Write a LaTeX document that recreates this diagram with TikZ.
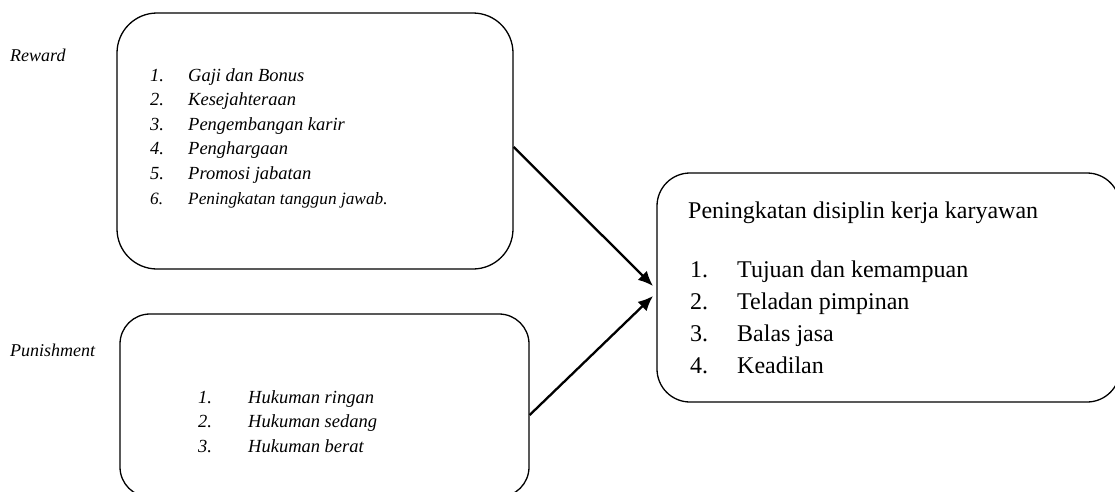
\documentclass[tikz,border=0pt]{standalone}
\usepackage{fontspec}
\setmainfont{Liberation Serif}
\usetikzlibrary{arrows.meta}
\begin{document}
\begin{tikzpicture}[x=1pt,y=-1pt,
  box/.style={draw, line width=1.3pt, inner sep=0pt, rounded corners=#1},
  lbl/.style={anchor=base west, inner sep=0pt, font=\fontsize{18}{22}\selectfont\itshape},
  smalllist/.style={anchor=base west, inner sep=0pt, font=\fontsize{18.5}{24.6}\selectfont\itshape},
  biglist/.style={anchor=base west, inner sep=0pt, font=\fontsize{24}{32}\selectfont},
  arr/.style={line width=2.3pt, -{Latex[length=15pt,width=13pt]}}]
\useasboundingbox (0,0) rectangle (1115,491);
% boxes
\node[box=40pt, minimum width=396pt, minimum height=256pt] (reward) at (315,141) {};
\node[box=30pt, minimum width=409pt, minimum height=183pt] (punish) at (324.5,405.5) {};
\node[box=33pt, minimum width=463pt, minimum height=229pt] (result) at (888.5,287.5) {};
% labels
\node[lbl] (rewardlabel) at (10,61) {Reward};
\node[lbl] (punishlabel) at (10,356) {Punishment};
% lists
\node[smalllist] (rewardlist) at (150,81) {\begin{tabular}[t]{@{}p{38pt}@{}l@{}}
1. & Gaji dan Bonus\\
2. & Kesejahteraan\\
3. & Pengembangan karir\\
4. & Penghargaan\\
5. & Promosi jabatan\\
\fontsize{17.3}{20}\selectfont 6. & \fontsize{17.3}{20}\selectfont Peningkatan tanggun jawab.
\end{tabular}};
\node[smalllist] (punishlist) at (198,403) {\begin{tabular}[t]{@{}p{50pt}@{}l@{}}
1. & Hukuman ringan\\
2. & Hukuman sedang\\
3. & Hukuman berat
\end{tabular}};
\node[biglist] (resulttitle) at (688,218) {Peningkatan disiplin kerja karyawan};
\node[biglist] (resultlist) at (690,277) {\begin{tabular}[t]{@{}p{47pt}@{}l@{}}
1. & Tujuan dan kemampuan\\
2. & Teladan pimpinan\\
3. & Balas jasa\\
4. & Keadilan
\end{tabular}};
% arrows
\coordinate (tip1) at (653,286);
\coordinate (tip2) at (653,296);
\draw[arr] ([yshift=-6pt]reward.east) -- (tip1);
\draw[arr] ([yshift=-9.5pt]punish.east) -- (tip2);
\end{tikzpicture}
\end{document}
